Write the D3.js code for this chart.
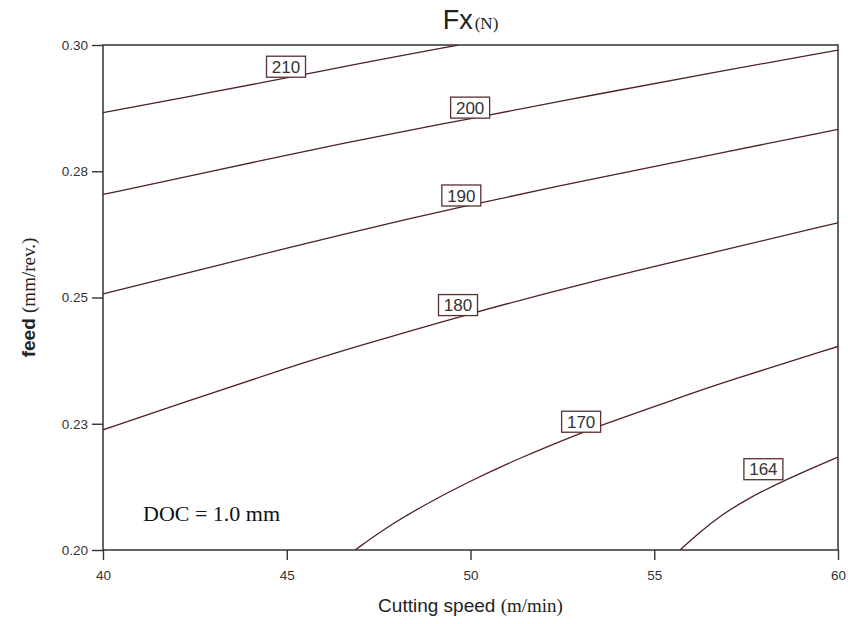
<!DOCTYPE html>
<html>
<head>
<meta charset="utf-8">
<script src="https://cdn.jsdelivr.net/npm/d3@7"></script>
<style>
  body { margin: 0; background: #fff; }
  svg { display: block; }
</style>
</head>
<body>
<svg id="chart" width="848" height="624"></svg>
<script>
// Axis ticks
const speedTicks = [40, 45, 50, 55, 60];
const feedTicks = [0.20, 0.225, 0.25, 0.275, 0.30];
const feedTickLabels = ["0.20", "0.23", "0.25", "0.28", "0.30"];

// Contour levels of Fx (N) and their traced paths as [cutting speed, feed]
const levels = [210, 200, 190, 180, 170, 164];
const contour210 = [[40, 0.2866], [42.64, 0.2902], [45.09, 0.2936], [46.72, 0.2960], [49.67, 0.3000]];
const contour200 = [[40, 0.2704], [42.64, 0.2745], [46.72, 0.2809], [49.93, 0.2853], [53.39, 0.2902], [56.79, 0.2948], [60, 0.2990]];
const contour190 = [[40, 0.2507], [42.64, 0.2555], [46.72, 0.2629], [49.76, 0.2680], [53.39, 0.2736], [56.79, 0.2786], [60, 0.2833]];
const contour180 = [[40, 0.2238], [42.64, 0.2303], [44.90, 0.2358], [46.72, 0.2399], [49.76, 0.2464], [53.39, 0.2534], [56.79, 0.2592], [60, 0.2648]];
const contour170 = [[46.86, 0.2000], [47.67, 0.2043], [48.76, 0.2090], [49.94, 0.2135], [51.39, 0.2184], [52.98, 0.2231], [53.52, 0.2246], [55.43, 0.2295], [56.88, 0.2332], [60, 0.2403]];
const contour164 = [[55.70, 0.2000], [56.25, 0.2036], [56.79, 0.2067], [57.47, 0.2099], [58.56, 0.2139], [60, 0.2184]];
const contours = [contour210, contour200, contour190, contour180, contour170, contour164];

// Where each level's label sits, as [cutting speed, feed]
const labelSpeed = [44.98, 49.99, 49.75, 49.66, 53.01, 57.97];
const labelFeed = [0.2957, 0.2876, 0.2702, 0.2485, 0.2254, 0.2160];

const svg = d3.select("#chart");
const margin = { left: 103, top: 45, right: 10, bottom: 74 };
const W = 848, H = 624;
const x0 = margin.left, x1 = W - margin.right;
const y0 = margin.top, y1 = H - margin.bottom;

const x = d3.scaleLinear().domain([40, 60]).range([x0, x1]);
const y = d3.scaleLinear().domain([0.20, 0.30]).range([y1, y0]);

const sans = "'Liberation Sans', Arial, sans-serif";
const serif = "'Liberation Serif', 'Times New Roman', serif";
const lineColor = "#4f2222";

// clip for contour lines
svg.append("defs").append("clipPath").attr("id", "plotClip")
  .append("rect").attr("x", x0).attr("y", y0).attr("width", x1 - x0).attr("height", y1 - y0);

// Contour lines
const line = d3.line().x(d => x(d[0])).y(d => y(d[1])).curve(d3.curveBasis);
svg.append("g").attr("clip-path", "url(#plotClip)")
  .selectAll("path").data(contours).join("path")
  .attr("d", line)
  .attr("fill", "none")
  .attr("stroke", lineColor)
  .attr("stroke-width", 1.3);

// Level labels in boxes
const lbl = svg.append("g").selectAll("g").data(levels).join("g")
  .attr("transform", (d, i) => `translate(${x(labelSpeed[i])},${y(labelFeed[i])})`);
lbl.append("rect")
  .attr("x", -19.5).attr("y", -10.5).attr("width", 39).attr("height", 21)
  .attr("fill", "#fff").attr("stroke", "#5a3030").attr("stroke-width", 1.3);
lbl.append("text")
  .attr("text-anchor", "middle").attr("dy", "0.37em")
  .attr("font-family", sans).attr("font-size", 17).attr("fill", "#333")
  .text(d => d);

// Axes
const yAxis = d3.axisLeft(y).tickValues(feedTicks).tickFormat((d, i) => feedTickLabels[i]).tickSize(11).tickPadding(4);
const xAxis = d3.axisBottom(x).tickValues(speedTicks).tickFormat(d3.format("d")).tickSize(10).tickPadding(10);

const gy = svg.append("g").attr("transform", `translate(${x0},0)`).call(yAxis);
const gx = svg.append("g").attr("transform", `translate(0,${y1})`).call(xAxis);
[gx, gy].forEach(g => {
  g.select(".domain").remove();
  g.selectAll(".tick line").attr("stroke", "#333").attr("stroke-width", 1.4);
  g.selectAll(".tick text").attr("font-family", sans).attr("font-size", 13.5).attr("fill", "#333");
});

// Frame
svg.append("rect")
  .attr("x", x0).attr("y", y0).attr("width", x1 - x0).attr("height", y1 - y0)
  .attr("fill", "none").attr("stroke", "#333").attr("stroke-width", 1.5);

// Title
const title = svg.append("text")
  .attr("x", (x0 + x1) / 2).attr("y", 29).attr("text-anchor", "middle").attr("fill", "#222");
title.append("tspan").attr("font-family", sans).attr("font-size", 27).text("Fx");
title.append("tspan").attr("font-family", serif).attr("font-size", 17).attr("dx", 2).text("(N)");

// Axis titles
const xt = svg.append("text")
  .attr("x", (x0 + x1) / 2).attr("y", 612).attr("text-anchor", "middle").attr("fill", "#222");
xt.append("tspan").attr("font-family", sans).attr("font-size", 19).text("Cutting speed ");
xt.append("tspan").attr("font-family", serif).attr("font-size", 19).text("(m/min)");

const yt = svg.append("text")
  .attr("transform", `translate(35,${(y0 + y1) / 2}) rotate(-90)`)
  .attr("text-anchor", "middle").attr("fill", "#222");
yt.append("tspan").attr("font-family", sans).attr("font-weight", "bold").attr("font-size", 19).text("feed ");
yt.append("tspan").attr("font-family", serif).attr("font-size", 19).text("(mm/rev.)");

// Depth of cut note
svg.append("text")
  .attr("x", 143).attr("y", 521)
  .attr("font-family", serif).attr("font-size", 22).attr("fill", "#111")
  .text("DOC = 1.0 mm");
</script>
</body>
</html>
